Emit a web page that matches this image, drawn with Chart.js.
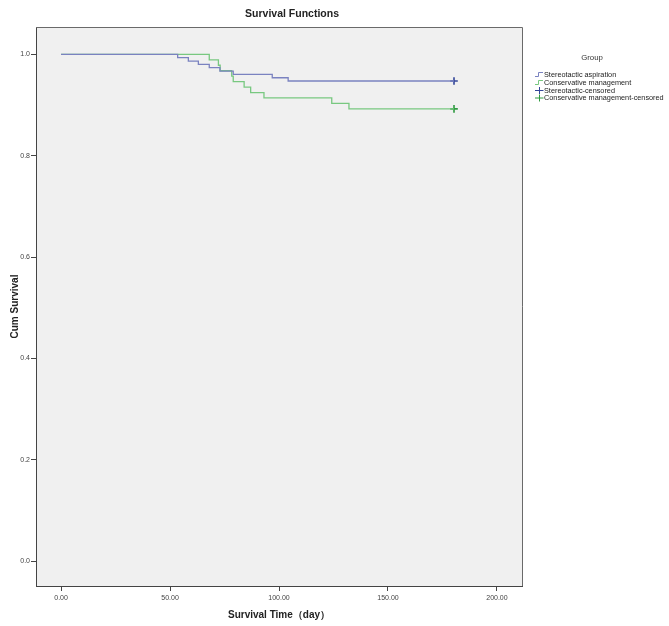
<!DOCTYPE html>
<html>
<head>
<meta charset="utf-8">
<script src="https://cdn.jsdelivr.net/npm/chart.js@4/dist/chart.umd.min.js"></script>
<style>
  html, body { margin: 0; padding: 0; background: #ffffff; }
  #c { display: block; }
</style>
</head>
<body>
<canvas id="c" width="669" height="626"></canvas>
<script>
// ---- data ----
const chartTitle = 'Survival Functions';
const xAxisTitle = 'Survival Time（day）';
const yAxisTitle = 'Cum Survival';
const legendTitle = 'Group';
const seriesNames = ['Stereotactic aspiration', 'Conservative management', 'Stereotactic-censored', 'Conservative management-censored'];

const stereoTimes = [0, 53.5, 58.4, 63.0, 68.0, 72.9, 79.0, 96.9, 104.2, 180.3];
const stereoSurv  = [1, 0.9934, 0.9868, 0.9803, 0.9737, 0.9671, 0.9605, 0.9539, 0.9474, 0.9474];
const consTimes   = [0, 68.0, 72.2, 73.0, 78.3, 79.0, 84.0, 87.0, 93.1, 124.2, 132.1, 180.3];
const consSurv    = [1, 0.9892, 0.9785, 0.9677, 0.9570, 0.9462, 0.9355, 0.9247, 0.9140, 0.9032, 0.8925, 0.8925];
const stereoCensorTimes = [180.3];
const stereoCensorSurv  = [0.9474];
const consCensorTimes   = [180.3];
const consCensorSurv    = [0.8925];

const xTickValues = [0, 50, 100, 150, 200];
const xTickLabels = ['0.00', '50.00', '100.00', '150.00', '200.00'];
const yTickValues = [0, 0.2, 0.4, 0.6, 0.8, 1.0];
const yTickLabels = ['0.0', '0.2', '0.4', '0.6', '0.8', '1.0'];

// ---- styles ----
const FONT = '"Liberation Sans", Arial, sans-serif';
const blueLine = '#7a82c0';
const greenLine = '#78c880';
const blueMark = '#34469a';
const greenMark = '#2f9a40';

const toPts = (xs, ys) => xs.map((x, i) => ({ x: x, y: ys[i] }));

const decor = {
  id: 'decor',
  beforeDraw(chart) {
    const { ctx, chartArea: a } = chart;
    ctx.save();
    ctx.fillStyle = '#ffffff';
    ctx.fillRect(0, 0, chart.width, chart.height);
    ctx.fillStyle = '#f0f0f0';
    ctx.fillRect(a.left, a.top, a.right - a.left, a.bottom - a.top);
    ctx.restore();
  },
  afterDraw(chart) {
    const { ctx, chartArea: a } = chart;
    ctx.save();
    // top and right frame
    ctx.strokeStyle = '#6a6a6a';
    ctx.lineWidth = 1;
    ctx.beginPath();
    ctx.moveTo(a.left, a.top + 0.5);
    ctx.lineTo(a.right + 0.5, a.top + 0.5);
    ctx.lineTo(a.right + 0.5, a.bottom);
    ctx.stroke();
    // title
    ctx.fillStyle = '#222222';
    ctx.font = 'bold 10.5px ' + FONT;
    ctx.textAlign = 'center';
    ctx.textBaseline = 'middle';
    ctx.fillText(chartTitle, 292, 14);
    // legend
    ctx.font = '7.8px ' + FONT;
    ctx.fillStyle = '#333333';
    ctx.fillText(legendTitle, 592, 58);
    const rows = [74, 82, 90, 97.5];
    const cols = [blueLine, greenLine, blueMark, greenMark];
    ctx.font = '7.3px ' + FONT;
    ctx.textAlign = 'left';
    rows.forEach((y, i) => {
      ctx.strokeStyle = cols[i];
      ctx.lineWidth = 1;
      ctx.beginPath();
      if (i < 2) {
        ctx.moveTo(535, y + 2.5);
        ctx.lineTo(538.5, y + 2.5);
        ctx.lineTo(538.5, y - 1.5);
        ctx.lineTo(543, y - 1.5);
      } else {
        ctx.moveTo(535, y + 0.5);
        ctx.lineTo(543.5, y + 0.5);
        ctx.moveTo(539.5, y - 3);
        ctx.lineTo(539.5, y + 4);
      }
      ctx.stroke();
      ctx.fillStyle = '#222222';
      ctx.fillText(seriesNames[i], 544, y + 0.5);
    });
    ctx.restore();
  }
};

new Chart(document.getElementById('c'), {
  type: 'line',
  data: {
    datasets: [
      { label: seriesNames[0], data: toPts(stereoTimes, stereoSurv), stepped: 'before',
        borderColor: blueLine, borderWidth: 1.3, pointRadius: 0, fill: false },
      { label: seriesNames[1], data: toPts(consTimes, consSurv), stepped: 'before',
        borderColor: greenLine, borderWidth: 1.3, pointRadius: 0, fill: false },
      { label: seriesNames[2], data: toPts(stereoCensorTimes, stereoCensorSurv), showLine: false,
        pointStyle: 'cross', pointRadius: 3.8, borderColor: blueMark, pointBorderWidth: 1.6 },
      { label: seriesNames[3], data: toPts(consCensorTimes, consCensorSurv), showLine: false,
        pointStyle: 'cross', pointRadius: 3.8, borderColor: greenMark, pointBorderWidth: 1.6 }
    ]
  },
  options: {
    responsive: false,
    animation: false,
    devicePixelRatio: 1,
    layout: { padding: { left: 0, right: 147, top: 27, bottom: 0 } },
    plugins: { legend: { display: false }, title: { display: false }, tooltip: { enabled: false } },
    scales: {
      x: {
        type: 'linear', min: -11.5, max: 211.5,
        afterBuildTicks: s => { s.ticks = xTickValues.map(v => ({ value: v })); },
        afterFit: s => { s.height = 40; },
        ticks: { callback: (v) => xTickLabels[xTickValues.indexOf(v)], font: { family: FONT, size: 7 },
                 color: '#444444', padding: 3, maxRotation: 0, autoSkip: false },
        grid: { display: true, drawOnChartArea: false, drawTicks: true, tickLength: 5, color: '#444444' },
        border: { display: true, color: '#444444', width: 1 },
        title: { display: true, text: xAxisTitle, color: '#222222',
                 font: { family: FONT, size: 10, weight: 'bold' }, padding: { top: 0, bottom: 5 } }
      },
      y: {
        type: 'linear', min: -0.049, max: 1.054,
        afterBuildTicks: s => { s.ticks = yTickValues.map(v => ({ value: v })); },
        afterFit: s => { s.width = 36; },
        ticks: { callback: (v) => yTickLabels[yTickValues.findIndex(t => Math.abs(t - v) < 1e-9)],
                 font: { family: FONT, size: 7 }, color: '#444444', padding: 1, autoSkip: false },
        grid: { display: true, drawOnChartArea: false, drawTicks: true, tickLength: 5, color: '#444444' },
        border: { display: true, color: '#444444', width: 1 },
        title: { display: true, text: yAxisTitle, color: '#222222',
                 font: { family: FONT, size: 10, weight: 'bold' }, padding: { top: 9, bottom: 0 } }
      }
    }
  },
  plugins: [decor]
});
</script>
</body>
</html>
